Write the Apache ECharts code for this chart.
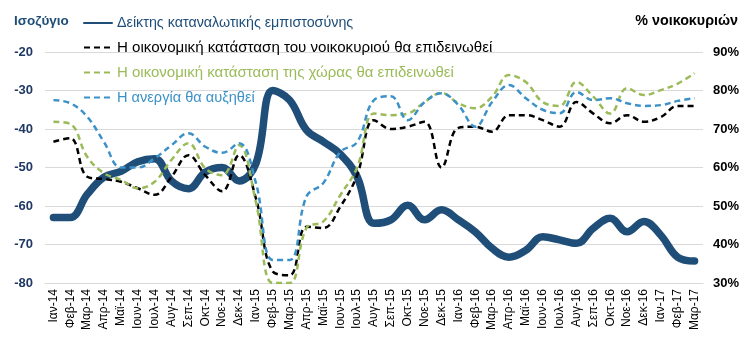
<!DOCTYPE html>
<html>
<head>
<meta charset="utf-8">
<script src="https://cdn.jsdelivr.net/npm/echarts@6/dist/echarts.min.js"></script>
<style>
  html, body { margin: 0; padding: 0; background: #fff; }
  #chart { width: 748px; height: 354px; }
</style>
</head>
<body>
<div id="chart"></div>
<script>
// μήνες
var months = ['Ιαν-14', 'Φεβ-14', 'Μαρ-14', 'Απρ-14', 'Μαϊ-14', 'Ιουν-14', 'Ιουλ-14', 'Αυγ-14', 'Σεπ-14', 'Οκτ-14', 'Νοε-14', 'Δεκ-14',
    'Ιαν-15', 'Φεβ-15', 'Μαρ-15', 'Απρ-15', 'Μαϊ-15', 'Ιουν-15', 'Ιουλ-15', 'Αυγ-15', 'Σεπ-15', 'Οκτ-15', 'Νοε-15', 'Δεκ-15',
    'Ιαν-16', 'Φεβ-16', 'Μαρ-16', 'Απρ-16', 'Μαϊ-16', 'Ιουν-16', 'Ιουλ-16', 'Αυγ-16', 'Σεπ-16', 'Οκτ-16', 'Νοε-16', 'Δεκ-16',
    'Ιαν-17', 'Φεβ-17', 'Μαρ-17'];

// Δείκτης καταναλωτικής εμπιστοσύνης (ισοζύγιο)
var confidence = [-63, -63, -57, -52.5, -51, -48.5, -47.7, -53.5, -55.5, -51.2, -50, -53.5,
    -49, -30, -32.5, -40.3, -43.3, -46.5, -52.4, -64.5, -63.6, -59.8, -63.6, -61,
    -63.6, -66.7, -71, -73.3, -71.5, -68, -68.8, -69.7, -65.8, -63.2, -66.7, -64,
    -67.6, -73.3, -74.3];

// % νοικοκυριών
var household = [66.7, 67.6, 57.6, 57, 56.3, 54.6, 52.9, 57.6, 63.2, 58, 53.8, 63.2,
    52, 33, 32, 44.6, 44.3, 49.8, 58, 72.3, 70, 70.6, 71.9, 60,
    70.3, 70.6, 69.3, 73.6, 73.6, 72.3, 70.6, 77, 74, 71.5, 73.6, 71.9,
    73.1, 76, 76];

var country = [71.9, 71.3, 62.8, 58.5, 56.8, 54.6, 56.3, 62, 66.3, 59.8, 58, 65.8,
    51, 30, 30, 44.3, 46, 52.8, 60, 74, 73.6, 74, 77, 79.4,
    76.7, 75.4, 78.4, 84, 82.2, 77, 76, 82.2, 78.4, 74, 80.6, 78.8,
    80.1, 81.8, 84.5];

var unemployment = [77.5, 76.7, 73.2, 66.6, 60, 60, 62.4, 65.8, 68.9, 65.4, 63.8, 66.3,
    56, 36, 36, 52.5, 56, 64, 66.6, 77.5, 78.5, 72.3, 77, 79.3,
    76.2, 70.6, 77, 81.4, 78, 75, 74.1, 79.6, 77.5, 78, 76.7, 76,
    76.2, 77.3, 78];

var names = ['Δείκτης καταναλωτικής εμπιστοσύνης',
    'Η οικονομική κατάσταση του νοικοκυριού θα επιδεινωθεί',
    'Η οικονομική κατάσταση της χώρας θα επιδεινωθεί',
    'Η ανεργία θα αυξηθεί'];

var colors = ['#1f4e79', '#000000', '#9bbb59', '#3c92c8'];
var legendSizes = [14.3, 15.1, 15, 14.6];

var myChart = echarts.init(document.getElementById('chart'));

function dashed(i, values) {
    return {
        name: names[i],
        type: 'line',
        yAxisIndex: 1,
        smooth: 0.4,
        symbol: 'none',
        lineStyle: { width: 2.5, color: colors[i], type: [6, 4] },
        itemStyle: { color: colors[i] },
        data: values
    };
}

var option = {
    animation: false,
    textStyle: { fontFamily: 'Liberation Sans, Arial, sans-serif' },
    title: [{
        text: 'Ισοζύγιο',
        left: 9,
        top: 9,
        textStyle: { fontSize: 13.5, fontWeight: 'bold', color: '#1f4e79' }
    }, {
        text: '% νοικοκυριών',
        right: 5,
        top: 9,
        textStyle: { fontSize: 14.3, fontWeight: 'bold', color: '#000' }
    }],
    legend: {
        orient: 'vertical',
        left: 78,
        top: 11,
        itemWidth: 28,
        itemHeight: 14,
        itemGap: 10,
        itemStyle: { opacity: 0 },
        textStyle: { fontSize: 14.5 },
        data: names.map(function(n, i) {
            return { name: n, textStyle: { color: colors[i], fontSize: legendSizes[i] } };
        })
    },
    grid: {
        left: 45,
        right: 45,
        top: 52,
        bottom: 71
    },
    xAxis: {
        type: 'category',
        data: months,
        boundaryGap: true,
        axisLine: { lineStyle: { color: '#d9d9d9' } },
        axisTick: { show: false },
        axisLabel: {
            rotate: 90,
            interval: 0,
            fontSize: 12,
            color: '#000',
            margin: 6
        }
    },
    yAxis: [{
        type: 'value',
        min: -80,
        max: -20,
        interval: 10,
        axisLine: { show: false },
        axisTick: { show: false },
        axisLabel: { fontSize: 13, fontWeight: 'bold', color: '#1f3864', margin: 12 },
        splitLine: { lineStyle: { color: '#d9d9d9' } }
    }, {
        type: 'value',
        min: 30,
        max: 90,
        interval: 10,
        axisLine: { show: false },
        axisTick: { show: false },
        axisLabel: { fontSize: 13, fontWeight: 'bold', color: '#000', margin: 10, formatter: '{value}%' },
        splitLine: { show: false }
    }],
    series: [{
        name: names[0],
        type: 'line',
        yAxisIndex: 0,
        smooth: 0.4,
        symbol: 'none',
        lineStyle: { width: 7.5, color: colors[0], cap: 'round', join: 'round' },
        itemStyle: { color: colors[0] },
        data: confidence
    },
    dashed(1, household),
    dashed(2, country),
    dashed(3, unemployment)]
};

myChart.setOption(option);
</script>
</body>
</html>
